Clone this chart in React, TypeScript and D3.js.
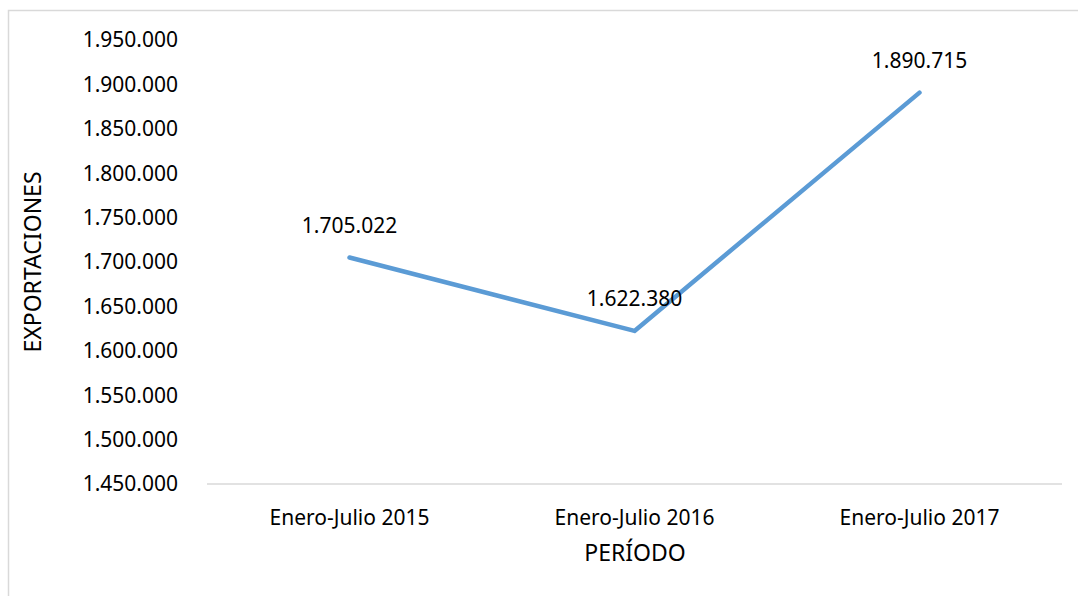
import React from "react";
import * as d3 from "d3";

const periods = ["Enero-Julio 2015", "Enero-Julio 2016", "Enero-Julio 2017"];
const exportValues = [1705022, 1622380, 1890715];
const yTicks = [1450000, 1500000, 1550000, 1600000, 1650000, 1700000, 1750000, 1800000, 1850000, 1900000, 1950000];

const fmt = (v: number) => d3.format(",")(v).replace(/,/g, ".");

const App = () => {
  const width = 1078;
  const height = 596;
  const margin = { top: 40, left: 207, bottom: 112, right: 16 };
  const font = "'Noto Sans', sans-serif";
  const fs = 21;

  const x = d3
    .scalePoint<string>()
    .domain(periods)
    .range([margin.left, width - margin.right])
    .padding(0.5);

  const y = d3
    .scaleLinear()
    .domain([1450000, 1950000])
    .range([height - margin.bottom, margin.top]);

  const line = d3
    .line<number>()
    .x((d, i) => x(periods[i]) as number)
    .y((d) => y(d));

  return (
    <svg
      width={width}
      height={height}
      style={{ position: "absolute", left: 0, top: 0 }}
    >
      <rect x={0} y={0} width={width} height={height} fill="#fff" />
      {/* chart border */}
      <rect x={8.5} y={10.5} width={width + 20} height={height + 20} fill="none" stroke="#d9d9d9" strokeWidth={1.5} />

      {yTicks.map((t) => (
        <text
          key={t}
          x={178}
          y={y(t)}
          dy="0.35em"
          textAnchor="end"
          fontFamily={font}
          fontSize={fs}
          fill="#000"
        >
          {fmt(t)}
        </text>
      ))}

      <line
        x1={margin.left}
        x2={width - margin.right}
        y1={y(1450000)}
        y2={y(1450000)}
        stroke="#d9d9d9"
        strokeWidth={1.5}
      />

      {periods.map((p) => (
        <text
          key={p}
          x={x(p)}
          y={518}
          dy="0.35em"
          textAnchor="middle"
          fontFamily={font}
          fontSize={fs}
          fill="#000"
        >
          {p}
        </text>
      ))}

      <path
        d={line(exportValues) || ""}
        fill="none"
        stroke="#5b9bd5"
        strokeWidth={4.5}
        strokeLinecap="round"
        strokeLinejoin="round"
      />

      {exportValues.map((v, i) => (
        <text
          key={i}
          x={x(periods[i])}
          y={y(v) - 32}
          dy="0.35em"
          textAnchor="middle"
          fontFamily={font}
          fontSize={fs}
          fill="#000"
        >
          {fmt(v)}
        </text>
      ))}

      <text
        x={635}
        y={553}
        dy="0.35em"
        textAnchor="middle"
        fontFamily={font}
        fontSize={23}
        fill="#000"
      >
        PERÍODO
      </text>
      <text
        transform={`translate(33, 262) rotate(-90)`}
        dy="0.35em"
        textAnchor="middle"
        fontFamily={font}
        fontSize={23}
        fill="#000"
      >
        EXPORTACIONES
      </text>
    </svg>
  );
};

export default App;
